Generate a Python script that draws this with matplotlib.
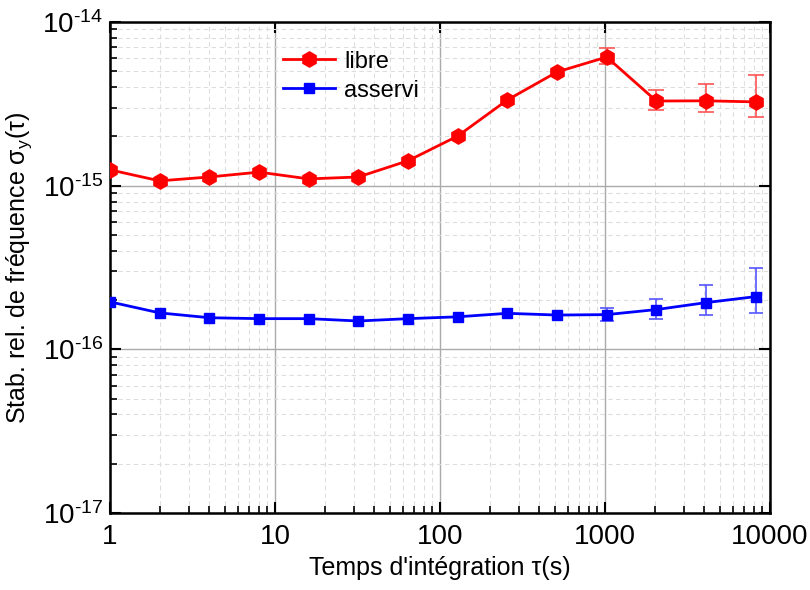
import numpy as np
import matplotlib.pyplot as plt
from matplotlib.ticker import LogLocator, FixedLocator, NullFormatter, FixedFormatter

plt.rcParams['font.family'] = ['Liberation Sans', 'DejaVu Sans']
plt.rcParams['mathtext.fontset'] = 'custom'
plt.rcParams['mathtext.rm'] = 'Liberation Sans'
plt.rcParams['mathtext.it'] = 'Liberation Sans:italic'

# Data
tau = [1, 2, 4, 8, 16, 32, 64, 128, 256, 512, 1024, 2048, 4096, 8192]

libre = [1.25e-15, 1.07e-15, 1.13e-15, 1.21e-15, 1.10e-15, 1.13e-15, 1.42e-15,
         2.01e-15, 3.34e-15, 4.95e-15, 6.11e-15, 3.29e-15, 3.30e-15, 3.25e-15]
libre_hi = [np.nan] * 10 + [6.9e-15, 3.84e-15, 4.18e-15, 4.74e-15]
libre_lo = [np.nan] * 10 + [5.55e-15, 2.90e-15, 2.82e-15, 2.63e-15]

asservi = [1.95e-16, 1.67e-16, 1.56e-16, 1.54e-16, 1.54e-16, 1.49e-16, 1.54e-16,
           1.58e-16, 1.66e-16, 1.62e-16, 1.63e-16, 1.75e-16, 1.93e-16, 2.10e-16]
asservi_hi = [np.nan] * 10 + [1.80e-16, 2.02e-16, 2.48e-16, 3.15e-16]
asservi_lo = [np.nan] * 10 + [1.49e-16, 1.54e-16, 1.62e-16, 1.66e-16]

x_ticks = [1, 10, 100, 1000, 10000]
x_labels = ['1', '10', '100', '1000', '10000']
y_ticks = [1e-17, 1e-16, 1e-15, 1e-14]
y_labels = [r'$10^{\text{-17}}$', r'$10^{\text{-16}}$', r'$10^{\text{-15}}$', r'$10^{\text{-14}}$']

fig = plt.figure(figsize=(8.1, 5.9), dpi=100)
ax = fig.add_axes([0.1358, 0.1305, 0.8148, 0.8322])
ax.set_xscale('log')
ax.set_yscale('log')

# error bars (only on last points)
idx = slice(10, None)
t_err = np.array(tau[idx])
l = np.array(libre[idx])
a = np.array(asservi[idx])
ax.errorbar(t_err, l, yerr=[l - np.array(libre_lo[idx]), np.array(libre_hi[idx]) - l],
            fmt='none', ecolor='#ff5555', elinewidth=1.2, capsize=6, capthick=1.2, zorder=3)
ax.errorbar(t_err, a, yerr=[a - np.array(asservi_lo[idx]), np.array(asservi_hi[idx]) - a],
            fmt='none', ecolor='#5555ff', elinewidth=1.2, capsize=5, capthick=1.2, zorder=3)

ax.plot(tau, libre, color='red', lw=2, marker='h', ms=11, label='libre', zorder=4)
ax.plot(tau, asservi, color='blue', lw=2, marker='s', ms=7.5, label='asservi', zorder=4)

ax.set_xlim(1, 10000)
ax.set_ylim(1e-17, 1e-14)

ax.xaxis.set_major_locator(FixedLocator(x_ticks))
ax.xaxis.set_major_formatter(FixedFormatter(x_labels))
ax.xaxis.set_minor_locator(LogLocator(base=10, subs=np.arange(2, 10)))
ax.xaxis.set_minor_formatter(NullFormatter())
ax.yaxis.set_major_locator(FixedLocator(y_ticks))
ax.yaxis.set_major_formatter(FixedFormatter(y_labels))
ax.yaxis.set_minor_locator(LogLocator(base=10, subs=np.arange(2, 10)))
ax.yaxis.set_minor_formatter(NullFormatter())

ax.grid(True, which='major', color='#aaaaaa', lw=1, ls='-')
ax.grid(True, which='minor', color='#dddddd', lw=0.8, ls=(0, (4, 3)))
ax.set_axisbelow(True)

ax.tick_params(which='major', direction='in', length=8, width=1.5, labelsize=20,
               top=True, right=True)
ax.tick_params(axis='x', which='major', pad=8)
ax.tick_params(axis='y', which='major', pad=5)
ax.tick_params(which='minor', direction='in', length=5, width=1.2,
               top=False, right=False)
for s in ax.spines.values():
    s.set_linewidth(1.8)

ax.set_xlabel("Temps d'intégration τ(s)", fontsize=18, labelpad=4)
ax.set_ylabel(r'Stab. rel. de fréquence $\mathrm{\sigma_y(\tau)}$', fontsize=18, labelpad=6)

ax.legend(loc='upper left', bbox_to_anchor=(0.23, 0.985), frameon=False, fontsize=17,
          handlelength=2.2, labelspacing=0.3, handletextpad=0.4)

fig.savefig('out.png', dpi=100)
